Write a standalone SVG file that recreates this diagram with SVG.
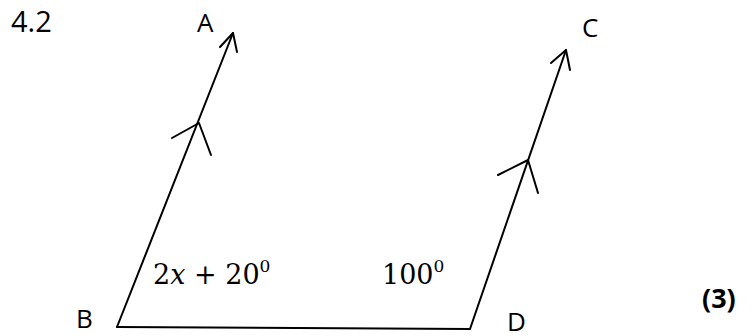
<svg xmlns="http://www.w3.org/2000/svg" width="754" height="336" viewBox="0 0 754 336">
<style>
.ln{fill:none;stroke:#000;stroke-width:2;stroke-linecap:round;stroke-linejoin:round}
.lbl{font-family:"Open Sans","Liberation Sans",sans-serif;font-size:26px;fill:#000}
.math{font-family:"DejaVu Serif","Liberation Serif",serif;font-size:27px;fill:#000}
.sup{font-size:17px}
</style>
<rect width="754" height="336" fill="#fff"/>
<text class="lbl" x="11" y="32" style="font-size:29px">4.2</text>
<g id="connectors">
<path class="ln" d="M117,327 L233,33"/>
<path class="ln" d="M220,47 L233,33 L237,52"/>
<path class="ln" d="M172,138 L199,123 L211,155"/>
<path class="ln" d="M117,327 L470,329"/>
<path class="ln" d="M470,329 L566,50"/>
<path class="ln" d="M551,63 L566,50 L570,70"/>
<path class="ln" d="M498,175 L528,160 L538,193"/>
</g>
<g id="node-A"><text class="lbl" x="197" y="32">A</text></g>
<g id="node-C"><text class="lbl" x="582" y="37">C</text></g>
<g id="node-B"><text class="lbl" x="76" y="328">B</text></g>
<g id="node-D"><text class="lbl" x="507" y="331">D</text></g>
<g id="angle-B">
<text class="math" x="153" y="284">2<tspan font-style="italic">x</tspan> + 20<tspan class="sup" dy="-12">0</tspan></text>
</g>
<g id="angle-D">
<text class="math" x="382" y="284">100<tspan class="sup" dy="-12">0</tspan></text>
</g>
<text x="702" y="308" font-family="'Open Sans','Liberation Sans',sans-serif" font-weight="bold" font-size="27" fill="#000">(3)</text>
</svg>
